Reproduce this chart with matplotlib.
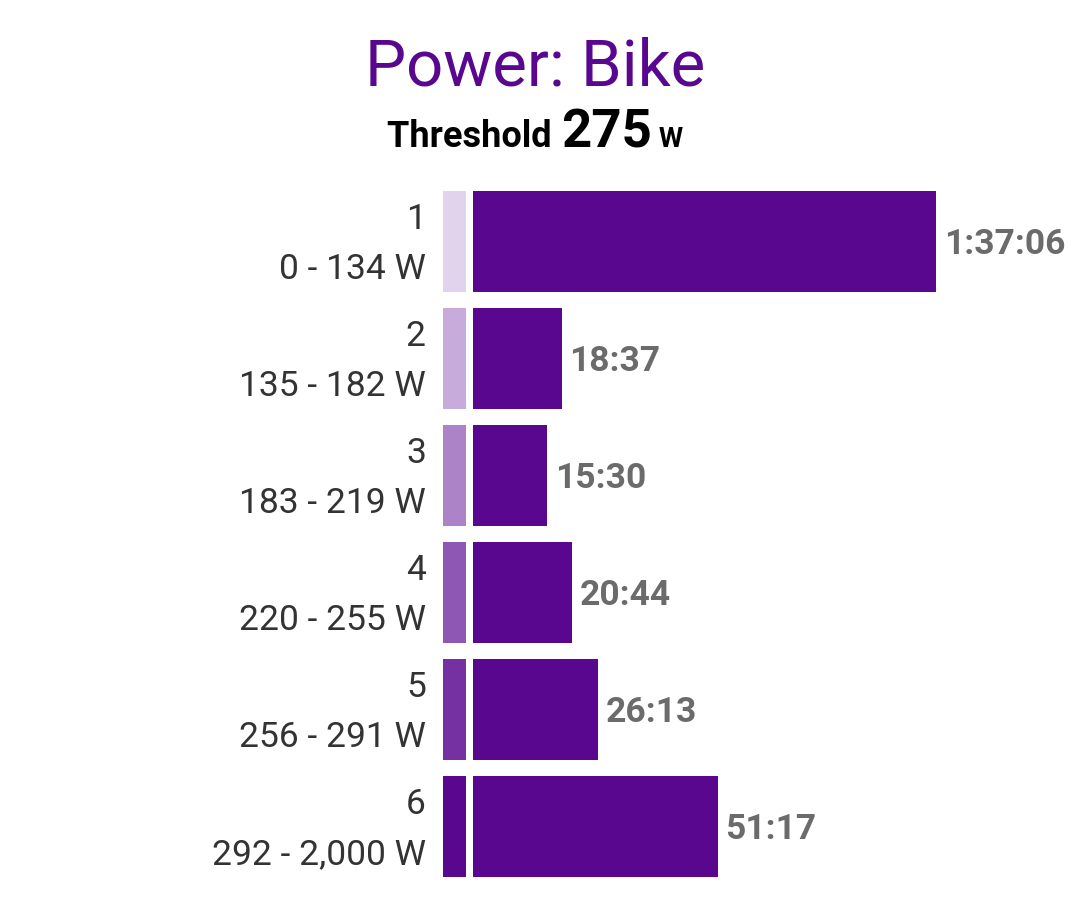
import matplotlib
matplotlib.use("Agg")
from matplotlib import pyplot as plt

plt.rcParams['font.family'] = ['Roboto', 'DejaVu Sans']

# zone data
zones = ["1", "2", "3", "4", "5", "6"]
ranges = ["0 - 134 W", "135 - 182 W", "183 - 219 W", "220 - 255 W",
          "256 - 291 W", "292 - 2,000 W"]
durations = ["1:37:06", "18:37", "15:30", "20:44", "26:13", "51:17"]
zone_colors = ["#E1D3EB", "#C7ABDB", "#AD83C8", "#8F57B4", "#7531A1", "#5A078F"]
threshold = 275

bar_color = "#5A078F"
label_color = "#333333"
value_color = "#6B6B6B"


def to_seconds(s):
    total = 0
    for part in s.split(":"):
        total = total * 60 + int(part)
    return total


seconds = [to_seconds(d) for d in durations]

W, H = 1075, 923
fig = plt.figure(figsize=(W / 100, H / 100), dpi=100)
fig.patch.set_facecolor("white")


def px_rect(x0, x1, y_top, y_bot):
    return [x0 / W, 1 - y_bot / H, (x1 - x0) / W, (y_bot - y_top) / H]


rows = range(len(zones))
bar_h = 101 / 117

# colour swatches
ax_sw = fig.add_axes(px_rect(443, 466, 183, 885))
ax_sw.barh(rows, [1] * len(zones), height=bar_h, color=zone_colors)
ax_sw.set_xlim(0, 1)
ax_sw.set_ylim(5.5, -0.5)
ax_sw.axis("off")

# main time-in-zone bars
px_per_sec = 0.0795
ax = fig.add_axes(px_rect(473, 1075, 183, 885))
ax.barh(rows, seconds, height=bar_h, color=bar_color)
ax.set_xlim(0, (1075 - 473) / px_per_sec)
ax.set_ylim(5.5, -0.5)
ax.axis("off")

for i, (sec, lab) in enumerate(zip(seconds, durations)):
    ax.annotate(lab, (sec, i), xytext=(5.5, -2), textcoords="offset points",
                ha="left", va="center", fontsize=25.5, fontweight="bold",
                color=value_color)
    ax.annotate(zones[i], (0, i), xycoords=("axes fraction", "data"),
                xytext=(-34, 15.5), textcoords="offset points",
                ha="right", va="center", fontsize=25.5, color=label_color,
                annotation_clip=False)
    ax.annotate(ranges[i], (0, i), xycoords=("axes fraction", "data"),
                xytext=(-34, -20.5), textcoords="offset points",
                ha="right", va="center", fontsize=25.5, color=label_color,
                annotation_clip=False)

# title
fig.text(535 / W, 1 - 67 / H, "Power: Bike", ha="center", va="center",
         fontsize=47, color=bar_color)

# subtitle with mixed sizes, laid out side by side
parts = [("Threshold ", 26), (str(threshold), 38), (" W", 20)]
renderer = fig.canvas.get_renderer()
texts = []
for s, size in parts:
    t = fig.text(0, 1 - 147 / H, s, ha="left", va="baseline",
                 fontsize=size, fontweight="bold", color="black")
    texts.append(t)
widths = [t.get_window_extent(renderer).width for t in texts]
x = 535 - sum(widths) / 2
for t, w in zip(texts, widths):
    t.set_x(x / W)
    x += w

fig.savefig("out.png", dpi=100, facecolor="white")
